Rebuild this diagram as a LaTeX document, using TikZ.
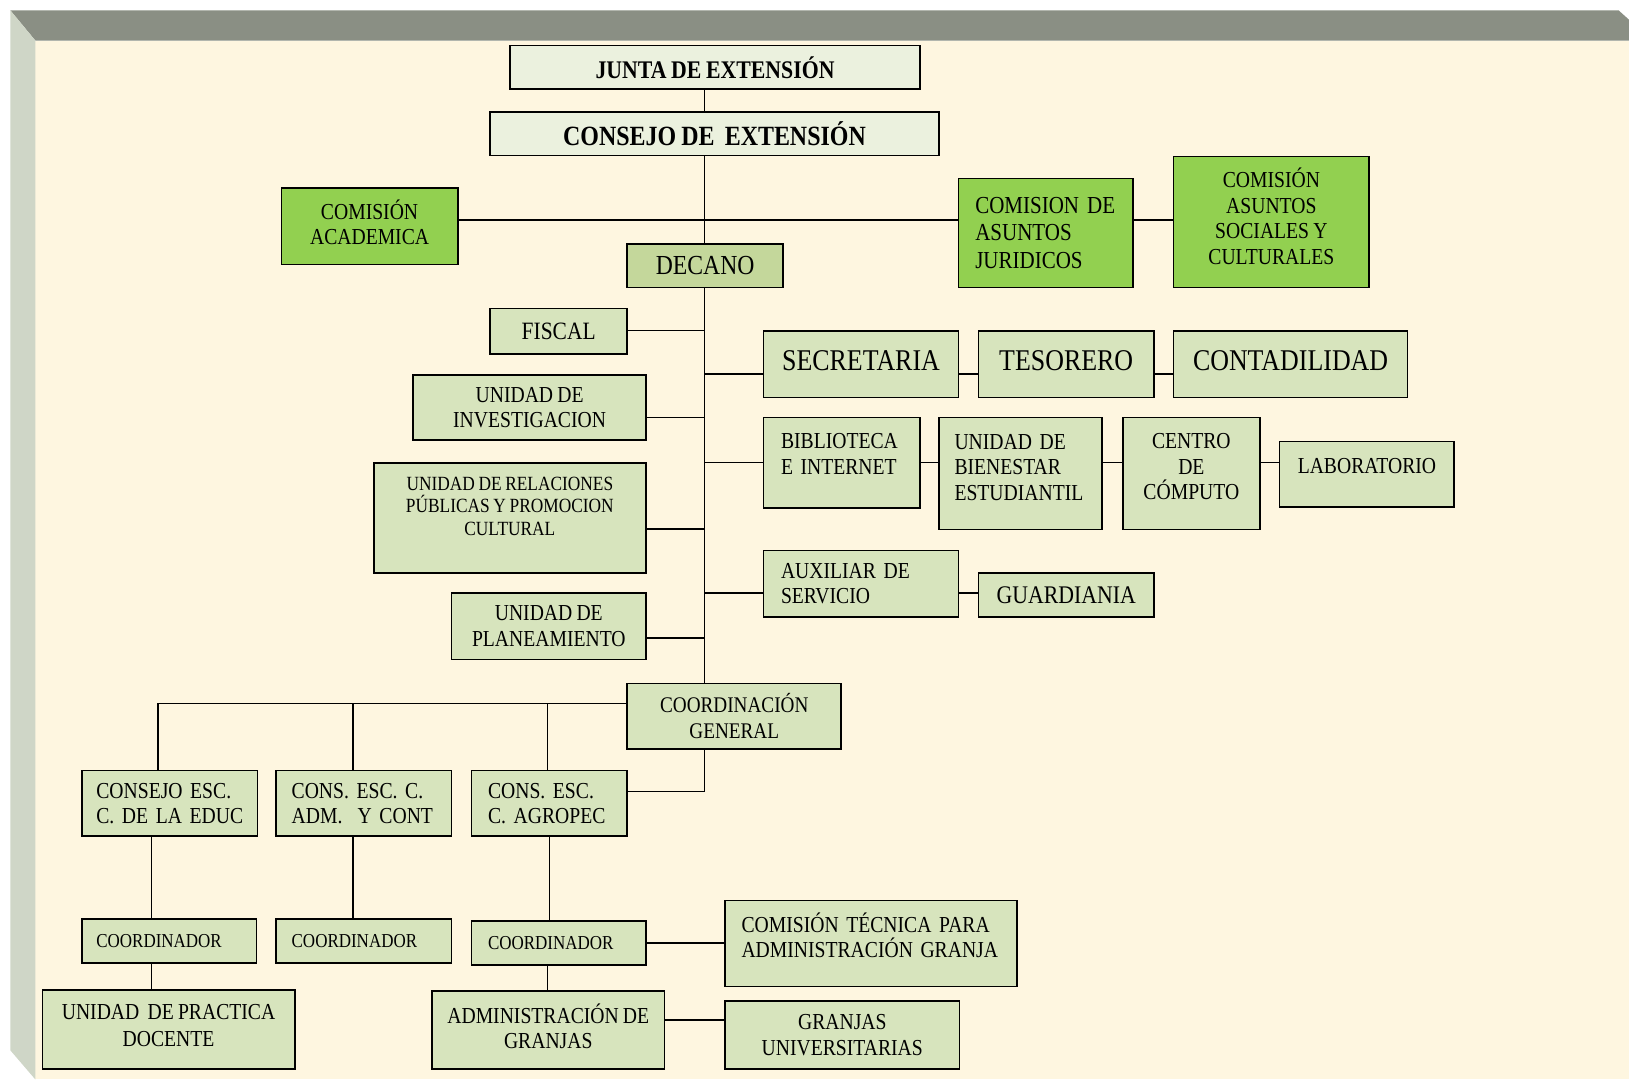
\documentclass[tikz,border=0pt]{standalone}
\usepackage{fontspec}
\setmainfont{Liberation Serif}[FakeStretch=0.86, WordSpace=0.85]
\usepackage{xcolor}

\definecolor{boxfill}{HTML}{D7E4BD}
\definecolor{deanfill}{HTML}{C4D79B}
\definecolor{headfill}{HTML}{EBF1DE}
\definecolor{commfill}{HTML}{92D050}
\definecolor{paper}{HTML}{FEF6E0}
\definecolor{barTop}{HTML}{8A8F84}
\definecolor{barSide}{HTML}{CFD6C7}

\newcommand{\fsz}[2]{\fontsize{#1}{#2}\selectfont}
\newcommand{\liftup}[1]{\\[#1]\mbox{}}

\begin{document}
\begin{tikzpicture}[x=1pt, y=-1pt, line width=1.5pt,
  unit/.style={draw, fill=boxfill, anchor=north west, inner sep=0pt, align=center, font=\fsz{22}{24.5}},
  comm/.style={unit, fill=commfill},
  lefttext/.style={align=left, text width=#1}]

% marco
\useasboundingbox (0,0) rectangle (1568,1039);
\fill[white] (0,0) rectangle (1568,1039);
\fill[paper] (34,39) rectangle (1568,1039);
\fill[barTop] (10,10) -- (1558,10) -- (1568,19) -- (1568,39) -- (34,39) -- cycle;
\fill[barSide] (10,10) -- (34,39) -- (34,1039) -- (10,1011) -- cycle;

% cabecera
\node[unit, fill=headfill, minimum width=395pt, minimum height=42pt, font=\fsz{24.4}{26}\bfseries] (junta) at (490,43) {JUNTA DE EXTENSIÓN};
\node[unit, fill=headfill, minimum width=432pt, minimum height=42pt, font=\fsz{26.8}{28}\bfseries] (consejo) at (471,107) {CONSEJO DE~ EXTENSIÓN};

% comisiones
\node[comm, minimum width=170pt, minimum height=74pt] (academica) at (270,180) {COMISIÓN\\ACADEMICA\liftup{-16.5pt}};
\node[comm, lefttext=136pt, minimum width=168pt, minimum height=105pt, font=\fsz{23.5}{26.5}] (juridicos) at (922,171) {COMISION~DE\\ASUNTOS\\JURIDICOS};
\node[comm, minimum width=188pt, minimum height=126pt] (sociales) at (1129,150) {COMISIÓN\\ASUNTOS\\SOCIALES Y\\CULTURALES\liftup{-13.5pt}};

\node[unit, fill=deanfill, minimum width=150pt, minimum height=42pt, font=\fsz{26.5}{28}] (decano) at (603,234) {DECANO};

% lado izquierdo
\node[unit, minimum width=132pt, minimum height=44pt, font=\fsz{24}{26}] (fiscal) at (471,296) {FISCAL};
\node[unit, minimum width=224pt, minimum height=63pt] (investigacion) at (397,360) {UNIDAD DE\\INVESTIGACION};
\node[unit, minimum width=262pt, minimum height=106pt, font=\fsz{19.4}{22}] (relaciones) at (359,445) {UNIDAD DE RELACIONES\\PÚBLICAS Y PROMOCION\\CULTURAL\liftup{1pt}};
\node[unit, minimum width=187pt, minimum height=64pt] (planeamiento) at (434,570) {UNIDAD DE\\PLANEAMIENTO};

% lado derecho
\node[unit, minimum width=188pt, minimum height=64pt, font=\fsz{29}{32}] (secretaria) at (734,318) {SECRETARIA\liftup{-24pt}};
\node[unit, minimum width=169pt, minimum height=64pt, font=\fsz{29}{32}] (tesorero) at (941,318) {TESORERO\liftup{-24pt}};
\node[unit, minimum width=225pt, minimum height=64pt, font=\fsz{29}{32}] (contadilidad) at (1129,318) {CONTADILIDAD\liftup{-24pt}};

\node[unit, lefttext=117pt, minimum width=151pt, minimum height=87pt] (biblioteca) at (734,401) {BIBLIOTECA\\E~INTERNET\liftup{-7.5pt}};
\node[unit, lefttext=127pt, minimum width=157pt, minimum height=108pt] (bienestar) at (903,401) {UNIDAD~DE\\BIENESTAR\\ESTUDIANTIL\liftup{-12.5pt}};
\node[unit, minimum width=132pt, minimum height=108pt] (centro) at (1080,401) {CENTRO\\DE\\CÓMPUTO\liftup{-11.5pt}};
\node[unit, minimum width=168pt, minimum height=63pt] (laboratorio) at (1231,424) {LABORATORIO\liftup{-8.5pt}};

\node[unit, lefttext=154pt, minimum width=188pt, minimum height=64pt] (auxiliar) at (734,529) {AUXILIAR~DE\\SERVICIO};
\node[unit, minimum width=169pt, minimum height=42pt, font=\fsz{24.4}{26}] (guardiania) at (941,551) {GUARDIANIA};

% coordinacion
\node[unit, minimum width=206pt, minimum height=63pt, font=\fsz{21.5}{24.5}] (coordinacion) at (603,657) {COORDINACIÓN\\GENERAL};

\node[unit, lefttext=141pt, minimum width=169pt, minimum height=63pt] (educ) at (78,741) {CONSEJO~ESC.\\C.~DE~LA~EDUC};
\node[unit, lefttext=139pt, minimum width=169pt, minimum height=63pt] (admcont) at (265,741) {CONS.~ESC.~C.\\ADM.~~Y~CONT};
\node[unit, lefttext=118pt, minimum width=150pt, minimum height=63pt] (agropec) at (453,741) {CONS.~ESC.\\C.~AGROPEC};

\node[unit, lefttext=140pt, minimum width=168pt, minimum height=42pt, font=\fsz{19}{21}] (coordA) at (78,884) {COORDINADOR};
\node[unit, lefttext=139pt, minimum width=169pt, minimum height=42pt, font=\fsz{19}{21}] (coordB) at (265,884) {COORDINADOR};
\node[unit, lefttext=136pt, minimum width=168pt, minimum height=42pt, font=\fsz{19}{21}] (coordC) at (453,886) {COORDINADOR};

\node[unit, lefttext=249pt, minimum width=281pt, minimum height=83pt] (tecnica) at (697,866) {COMISIÓN~TÉCNICA~PARA\\ADMINISTRACIÓN~GRANJA\liftup{-8.5pt}};
\node[unit, minimum width=243pt, minimum height=76pt, font=\fsz{22}{26}] (practica) at (40,952) {UNIDAD~ DE PRACTICA\\DOCENTE\liftup{-18pt}};
\node[unit, minimum width=224pt, minimum height=75pt] (admgranjas) at (415,953) {ADMINISTRACIÓN DE\\GRANJAS\liftup{-17.5pt}};
\node[unit, minimum width=226pt, minimum height=65pt] (granjas) at (697,963) {GRANJAS\\UNIVERSITARIAS};

% tronco
\coordinate (tC) at (678,212);
\draw (junta.south -| tC) -- (consejo.north -| tC);
\draw (consejo.south -| tC) -- (decano.north -| tC);
\draw (decano.south -| tC) -- (coordinacion.north -| tC);
\draw (tC -| academica.east) -- (tC -| juridicos.west);
\draw (tC -| juridicos.east) -- (tC -| sociales.west);

% ramas izquierda
\coordinate (tF) at (678,318);
\coordinate (tI) at (678,402);
\coordinate (tR) at (678,509);
\coordinate (tP) at (678,614);
\foreach \t/\n in {tF/fiscal, tI/investigacion, tR/relaciones, tP/planeamiento}
  \draw (\t -| \n.east) -- (\t);

% ramas derecha
\coordinate (tS) at (678,360);
\draw (tS) -- (tS -| secretaria.west) (tS -| secretaria.east) -- (tS -| tesorero.west)
  (tS -| tesorero.east) -- (tS -| contadilidad.west);
\coordinate (tB) at (678,445);
\draw (tB) -- (tB -| biblioteca.west) (tB -| biblioteca.east) -- (tB -| bienestar.west)
  (tB -| bienestar.east) -- (tB -| centro.west) (tB -| centro.east) -- (tB -| laboratorio.west);
\coordinate (tA) at (678,571);
\draw (tA) -- (tA -| auxiliar.west) (tA -| auxiliar.east) -- (tA -| guardiania.west);

% consejos de escuela
\coordinate (tG) at (678,762);
\draw (coordinacion.south -| tG) -- (tG) -- (tG -| agropec.east);
\coordinate (dE) at (152,677);
\coordinate (dA) at (340,677);
\coordinate (dG) at (527,677);
\draw (dE -| coordinacion.west) -- (dE) -- (dE |- educ.north);
\draw (dA) -- (dA |- admcont.north);
\draw (dG) -- (dG |- agropec.north);

% coordinadores
\coordinate (vE) at (146,900);
\draw (educ.south -| vE) -- (coordA.north -| vE) (coordA.south -| vE) -- (practica.north -| vE);
\draw (admcont.south -| dA) -- (coordB.north -| dA);
\coordinate (vG) at (529,900);
\draw (agropec.south -| vG) -- (coordC.north -| vG);
\draw (coordC.south -| dG) -- (admgranjas.north -| dG);
\draw (coordC.east) -- (coordC.east -| tecnica.west);
\coordinate (tN) at (639,982);
\draw (tN -| admgranjas.east) -- (tN -| granjas.west);

\end{tikzpicture}
\end{document}
